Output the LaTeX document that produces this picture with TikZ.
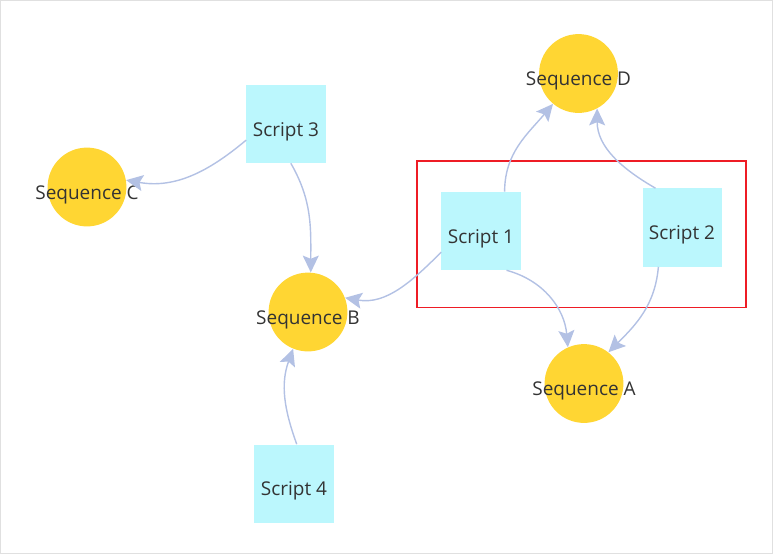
\documentclass[tikz,border=0pt]{standalone}
\usepackage{fontspec}
\setmainfont{Open Sans}
\usetikzlibrary{arrows.meta}
\usepackage{xcolor}
\definecolor{scriptcyan}{HTML}{BBF7FD}
\definecolor{seqyellow}{HTML}{FFD633}
\definecolor{linkblue}{HTML}{B3C1E4}
\definecolor{txtgrey}{HTML}{333333}
\definecolor{framered}{HTML}{EE1C25}

\begin{document}
\begin{tikzpicture}[
    x=0.025cm, y=0.025cm,
    scriptbox/.style={
        fill=scriptcyan,
        minimum width=1.975cm,
        minimum height=1.95cm,
        inner sep=0pt,
        text height=0.72cm,
        text depth=0.12cm,
        text=txtgrey,
        font=\fontsize{13.5}{16}\selectfont,
    },
    seqcircle/.style={
        circle,
        fill=seqyellow,
        minimum size=1.97cm,
        inner sep=0pt,
    },
    seqlabel/.style={
        anchor=base,
        yshift=-0.19cm,
        text=txtgrey,
        font=\fontsize{13.5}{16}\selectfont,
    },
    link/.style={
        draw=linkblue,
        line width=1pt,
        -{Stealth[length=0.42cm, width=0.4cm, inset=0.08cm]},
    },
]

\useasboundingbox (0,0) rectangle (773,-554);
\draw[black!12, line width=0.6pt] (0.5,-0.5) rectangle (772.5,-553.5);

% scripts
\node[scriptbox] (s3) at (286,-124) {Script 3};
\node[scriptbox] (s1) at (481,-231) {Script 1};
\node[scriptbox] (s2) at (682,-227.5) {Script 2};
\node[scriptbox] (s4) at (294,-483.5) {Script 4};

% sequences
\node[seqcircle, label={[seqlabel]center:Sequence C}] (seqC) at (87,-187) {};
\node[seqcircle, label={[seqlabel]center:Sequence B}] (seqB) at (308,-312) {};
\node[seqcircle, label={[seqlabel]center:Sequence D}] (seqD) at (578.5,-73.5) {};
\node[seqcircle, label={[seqlabel]center:Sequence A}] (seqA) at (584,-383.5) {};

% highlight
\draw[framered, line width=1.1pt] (417,-161) rectangle (746,-307.5);

% links
\draw[link] (s3.202) to[out=220, in=-10] (seqC.10);
\draw[link] (s3.277) to[out=-60, in=90] (seqB.86);
\draw[link] (s4.86) to[out=110, in=250] (seqB.248);
\draw[link] (s1.208) to[out=225, in=-10] (seqB.21);
\draw[link] (s1.59) to[out=90, in=230] (seqD.230);
\draw[link] (s2.124) to[out=150, in=270] (seqD.298);
\draw[link] (s1.303) to[out=-15, in=95] (seqA.114);
\draw[link] (s2.239) to[out=-95, in=45] (seqA.52);

\end{tikzpicture}
\end{document}
